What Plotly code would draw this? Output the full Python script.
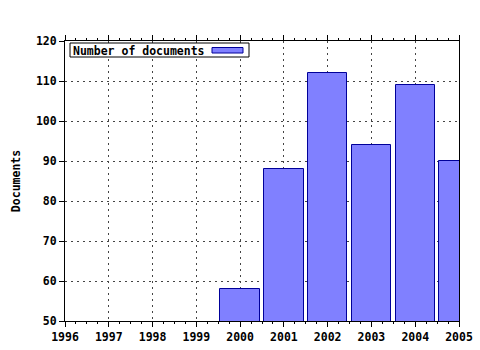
import plotly.graph_objects as go

years = [2000, 2001, 2002, 2003, 2004, 2005]
documents = [58, 88, 112, 94, 109, 90]
series_name = "Number of documents"
y_title = "Documents"

FONT = "DejaVu Sans Mono"
BAR_FILL = "#8080ff"
BAR_LINE = "#000099"

fig = go.Figure()
fig.add_trace(go.Bar(
    x=years, y=documents, name=series_name, width=0.9,
    marker=dict(color=BAR_FILL, line=dict(color=BAR_LINE, width=1)),
    showlegend=False,
))

# plot area in pixels: x 65..459, y 41..321
L, R, T, B = 65, 459, 41, 321
W, H = R - L, B - T
def px(x):
    return (x - L) / W
def py(y):
    return (B - y) / H

# legend box drawn as shapes + annotation
fig.add_shape(type="rect", xref="paper", yref="paper",
              x0=px(70), x1=px(249), y0=py(57), y1=py(43),
              line=dict(color="black", width=1), fillcolor="white", layer="above")
fig.add_shape(type="rect", xref="paper", yref="paper",
              x0=px(212), x1=px(243), y0=py(53), y1=py(47.5),
              line=dict(color=BAR_LINE, width=1), fillcolor=BAR_FILL, layer="above")
fig.add_annotation(xref="paper", yref="paper", x=px(71), y=py(50.5),
                   xanchor="left", yanchor="middle", showarrow=False,
                   text=series_name,
                   font=dict(family=FONT, size=11.5, color="black", weight="bold"))

fig.update_layout(
    width=480, height=350,
    margin=dict(l=L, r=480 - R, t=T, b=350 - B, autoexpand=False),
    paper_bgcolor="white", plot_bgcolor="white",
    font=dict(family=FONT, size=12, color="black"),
    bargap=0,
)
fig.update_xaxes(
    range=[1996, 2005], tick0=1996, dtick=1, automargin=False,
    showline=True, linecolor="black", linewidth=1, mirror="ticks",
    ticks="outside", ticklen=5, tickcolor="black",
    minor=dict(dtick=0.25, ticklen=2, tickcolor="black", ticks="outside", showgrid=False),
    showgrid=True, gridcolor="#444444", griddash="2px,4px", gridwidth=1,
    tickfont=dict(family=FONT, size=11.5, color="black", weight="bold"),
    zeroline=False,
)
fig.update_yaxes(
    range=[50, 120], tick0=50, dtick=10, automargin=False,
    showline=True, linecolor="black", linewidth=1, mirror=True,
    ticks="outside", ticklen=5, tickcolor="black",
    showgrid=True, gridcolor="#444444", griddash="2px,4px", gridwidth=1,
    tickfont=dict(family=FONT, size=11.5, color="black", weight="bold"),
    title=dict(text=y_title, font=dict(family=FONT, size=11.5, color="black", weight="bold"), standoff=12),
    zeroline=False,
)

fig.write_html("out.html")
